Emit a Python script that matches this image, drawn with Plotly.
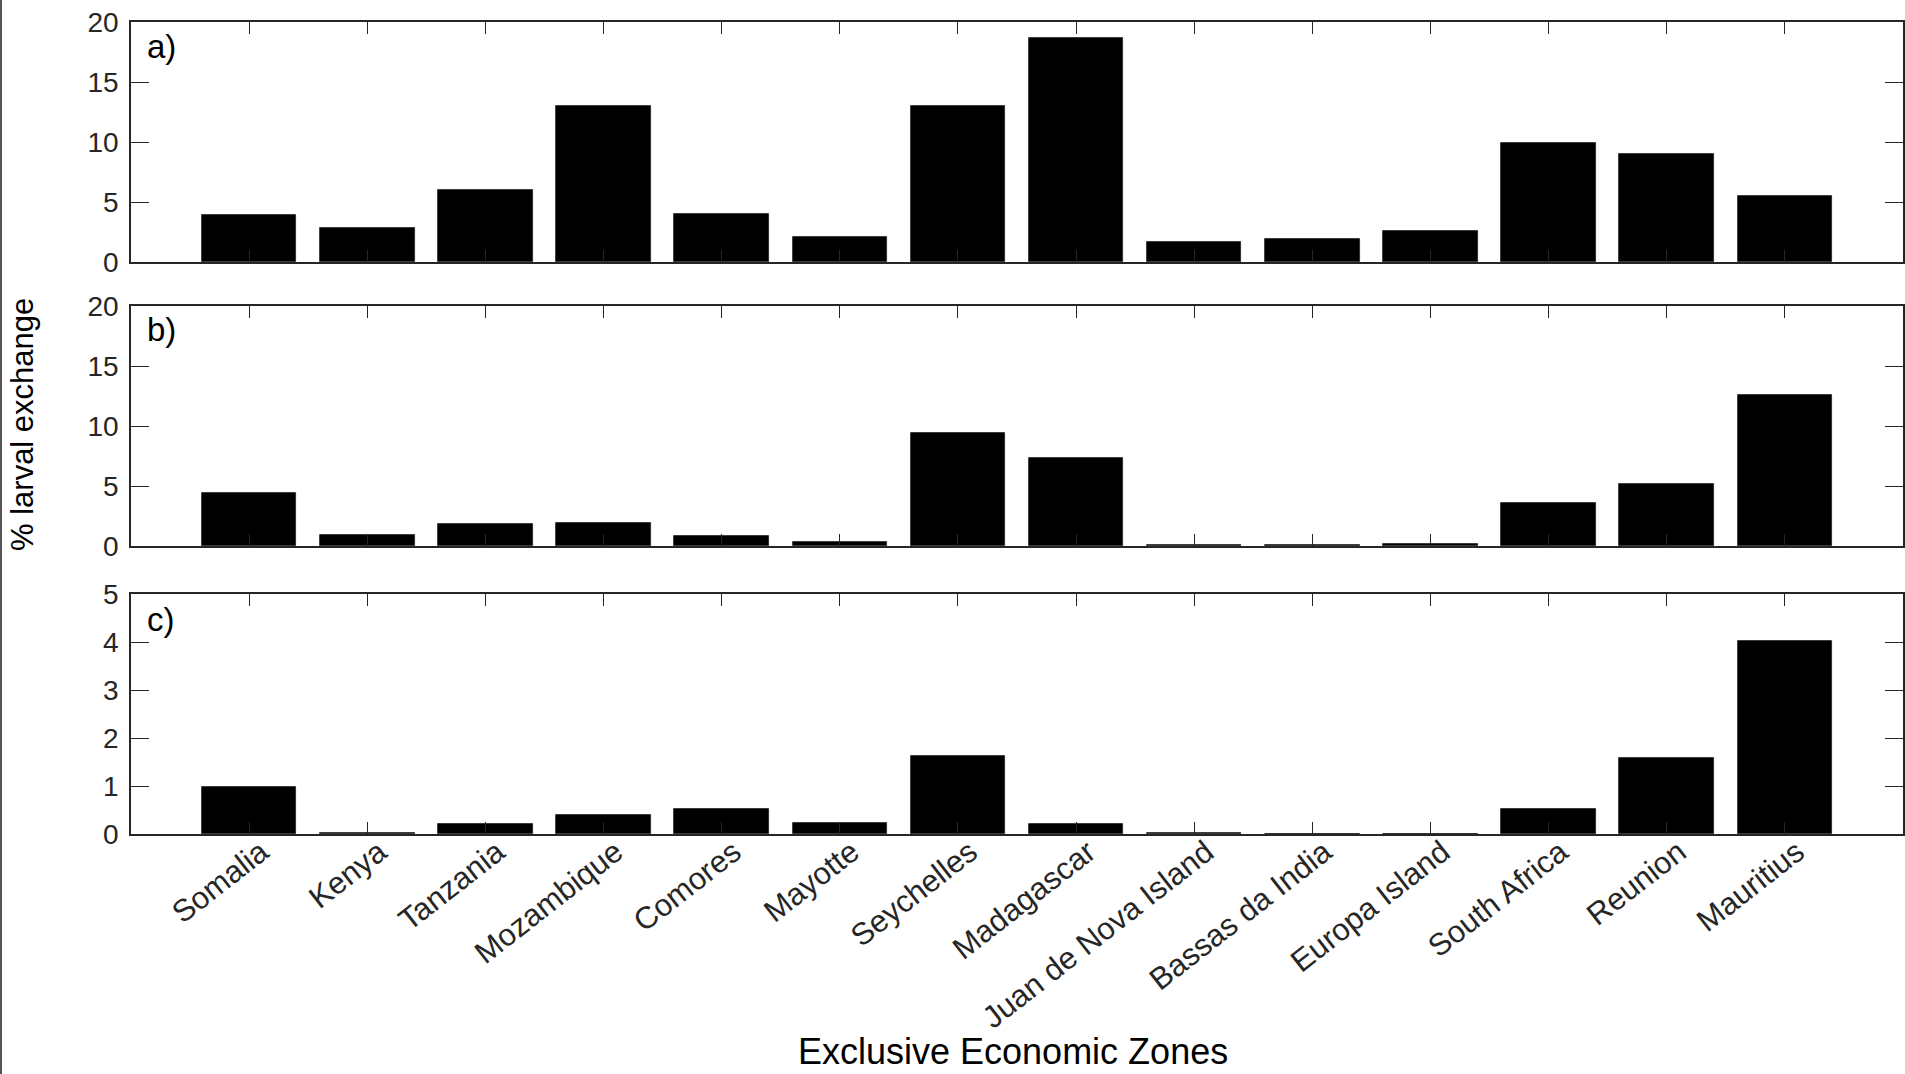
import plotly.graph_objects as go

categories = ["Somalia", "Kenya", "Tanzania", "Mozambique", "Comores", "Mayotte",
              "Seychelles", "Madagascar", "Juan de Nova Island", "Bassas da India",
              "Europa Island", "South Africa", "Reunion", "Mauritius"]
values_a = [3.9, 2.8, 6.0, 13.0, 4.0, 2.1, 13.0, 18.7, 1.7, 1.9, 2.6, 9.9, 9.0, 5.5]
values_b = [4.4, 0.95, 1.85, 1.95, 0.8, 0.3, 9.45, 7.3, 0.1, 0.07, 0.15, 3.6, 5.2, 12.6]
values_c = [0.98, 0.03, 0.2, 0.39, 0.53, 0.23, 1.62, 0.21, 0.015, 0.0, 0.0, 0.53, 1.58, 4.03]
panel_labels = ["a)", "b)", "c)"]
y_ranges = [[0, 20], [0, 20], [0, 5]]
y_dticks = [5, 5, 1]

W, H = 1905, 1074
positions = list(range(1, len(categories) + 1))

def py(pix):
    return 1 - pix / H

def px(pix):
    return pix / W

x_dom = [px(131), px(1903)]
y_doms = [[py(262), py(22)], [py(546), py(306)], [py(834), py(594)]]

fig = go.Figure()
series = [values_a, values_b, values_c]
axis_col = "#262626"
font_fam = "Liberation Sans, Arial, Helvetica, sans-serif"

for i, vals in enumerate(series):
    n = "" if i == 0 else str(i + 1)
    fig.add_trace(go.Bar(
        x=positions, y=vals, width=0.8,
        marker=dict(color="black", line=dict(color="#222222", width=0.8)),
        xaxis="x" + n, yaxis="y" + n, showlegend=False,
    ))
    fig.layout["xaxis" + n] = dict(
        domain=x_dom, anchor="y" + n, range=[0, len(categories) + 1],
        tickmode="array", tickvals=positions,
        ticktext=categories if i == 2 else [""] * len(categories),
        showticklabels=(i == 2), tickangle=-38,
        ticks="inside", ticklen=12, tickwidth=1, tickcolor=axis_col,
        showline=True, linecolor=axis_col, linewidth=1.5, mirror="ticks",
        showgrid=False, zeroline=False, automargin=False,
        ticklabelshift=12, ticklabelstandoff=-14,
        tickfont=dict(family=font_fam, size=31, color=axis_col),
    )
    fig.layout["yaxis" + n] = dict(
        domain=y_doms[i], anchor="x" + n, range=y_ranges[i],
        tickmode="linear", tick0=0, dtick=y_dticks[i],
        ticks="inside", ticklen=18, tickwidth=1, tickcolor=axis_col,
        showline=True, linecolor=axis_col, linewidth=1.5, mirror="ticks",
        showgrid=False, zeroline=False, automargin=False,
        ticklabelstandoff=5,
        tickfont=dict(family=font_fam, size=28, color=axis_col),
    )

annotations = []
label_centers = [46, 329, 619]
for lab, yc in zip(panel_labels, label_centers):
    annotations.append(dict(
        text=lab, xref="paper", yref="paper", x=px(145), y=py(yc),
        xanchor="left", yanchor="middle", showarrow=False,
        font=dict(family=font_fam, size=33, color="black"),
    ))
annotations.append(dict(
    text="% larval exchange", xref="paper", yref="paper", x=px(22), y=py(425),
    xanchor="center", yanchor="middle", textangle=-90, showarrow=False,
    font=dict(family=font_fam, size=31, color="black"),
))
annotations.append(dict(
    text="Exclusive Economic Zones", xref="paper", yref="paper", x=px(1013), y=0,
    xanchor="center", yanchor="bottom", showarrow=False,
    font=dict(family=font_fam, size=36, color="black"),
))

fig.update_layout(
    width=W, height=H, autosize=False,
    margin=dict(l=0, r=0, t=0, b=0, pad=0),
    paper_bgcolor="white", plot_bgcolor="white",
    annotations=annotations, bargap=0,
    shapes=[dict(type="line", xref="paper", yref="paper", x0=px(1), x1=px(1),
                 y0=0, y1=1, line=dict(color="#555555", width=2))],
)

fig.write_html("out.html", config={"displayModeBar": False},
               post_script="document.body.style.margin='0';document.body.style.overflow='hidden';")
